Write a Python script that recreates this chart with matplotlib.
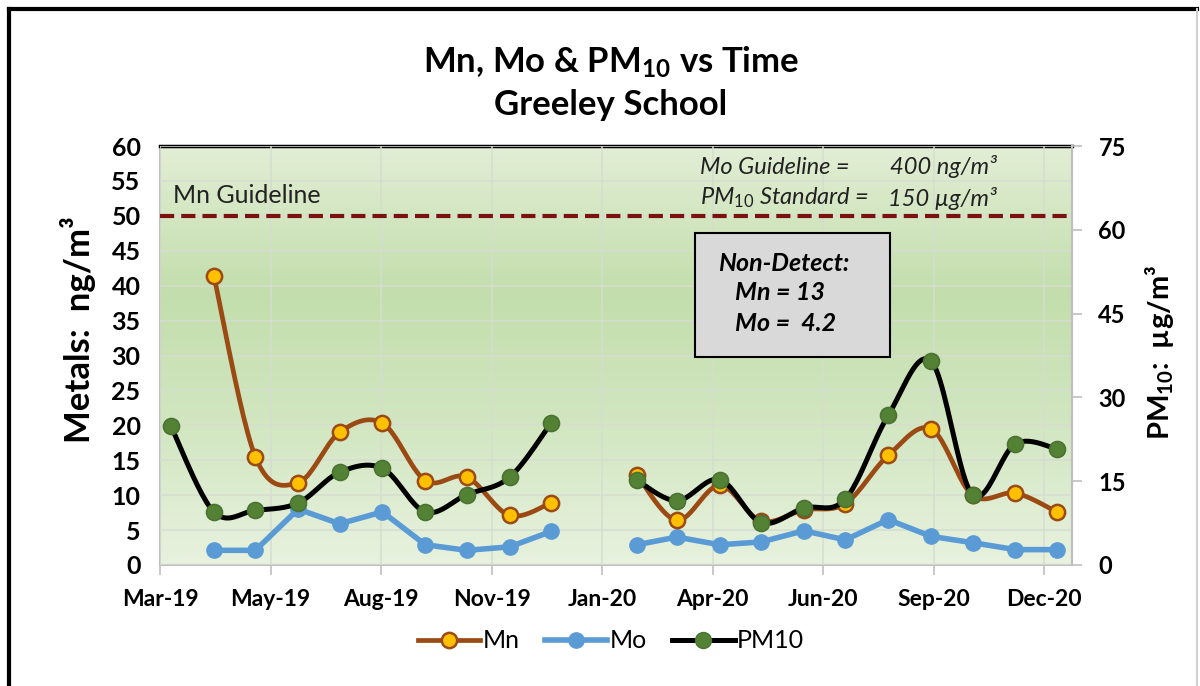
import numpy as np
import pandas as pd
import matplotlib
matplotlib.use("Agg")
import matplotlib.pyplot as plt
import matplotlib.dates as mdates
from matplotlib.lines import Line2D
from matplotlib.patches import Rectangle
from matplotlib.colors import LinearSegmentedColormap

# ---------------- data ----------------
sample_dates = ["2019-03-15", "2019-04-15", "2019-05-15", "2019-06-15", "2019-07-15",
                "2019-08-15", "2019-09-15", "2019-10-15", "2019-11-15", "2019-12-15",
                "2020-01-15", "2020-02-15", "2020-03-15", "2020-04-15", "2020-05-15",
                "2020-06-15", "2020-07-15", "2020-08-15", "2020-09-15", "2020-10-15",
                "2020-11-15", "2020-12-15"]
nan = np.nan
mn = [nan, 41.4, 15.5, 11.8, 19.0, 20.3, 12.1, 12.6, 7.1, 8.9,
      nan, 12.9, 6.4, 11.4, 6.3, 7.9, 8.8, 15.7, 19.5, 10.0, 10.3, 7.6]
mo = [nan, 2.1, 2.1, 8.0, 5.9, 7.6, 2.9, 2.1, 2.6, 4.8,
      nan, 2.9, 4.0, 2.9, 3.3, 4.9, 3.6, 6.5, 4.1, 3.2, 2.2, 2.2]
pm10 = [24.8, 9.5, 9.8, 11.1, 16.6, 17.3, 9.5, 12.6, 15.7, 25.4,
        nan, 15.2, 11.5, 15.3, 7.6, 10.2, 11.8, 26.8, 36.5, 12.6, 21.7, 20.8]
mn_guideline = 50
tick_labels = ["Mar-19", "May-19", "Aug-19", "Nov-19", "Jan-20",
               "Apr-20", "Jun-20", "Sep-20", "Dec-20"]
axis_start = "2019-03-07"
tick_step_days = 80
axis_span_days = 660

# ---------------- style ----------------
plt.rcParams['font.family'] = ['Lato', 'DejaVu Sans']
plt.rcParams['mathtext.fontset'] = 'custom'
plt.rcParams['mathtext.rm'] = 'Lato'
plt.rcParams['mathtext.it'] = 'Lato:italic'
plt.rcParams['mathtext.bf'] = 'Lato:bold'

W, H = 1200, 686
fig = plt.figure(figsize=(W / 100, H / 100), dpi=100)
fig.patch.set_facecolor('white')

def fx(px):
    return px / W

def fy(py):
    return 1 - py / H

ax = fig.add_axes([fx(160), fy(565), fx(1072) - fx(160), fy(146) - fy(565)])
ax2 = ax.twinx()

x = mdates.date2num(pd.to_datetime(sample_dates))
x0 = mdates.date2num(pd.Timestamp(axis_start))
ticks = [x0 + k * tick_step_days for k in range(len(tick_labels))]

# gradient background
cmap = LinearSegmentedColormap.from_list(
    'bg', [(0.0, '#e8f2df'), (0.35, '#d1e6c0'), (0.65, '#c3deac'), (1.0, '#e2eed5')])
grad = np.linspace(0, 1, 256).reshape(-1, 1)
ax.imshow(grad, aspect='auto', cmap=cmap, origin='lower',
          extent=[0, 1, 0, 1], transform=ax.transAxes, zorder=0)
ax.set_facecolor('none')


def smooth(xs, ys, n=24):
    xs = np.asarray(xs, float)
    ys = np.asarray(ys, float)
    outx, outy = [], []
    ok = ~np.isnan(ys)
    segs = []
    cur = []
    for i in range(len(ys)):
        if ok[i]:
            cur.append(i)
        else:
            if cur:
                segs.append(cur)
            cur = []
    if cur:
        segs.append(cur)
    for seg in segs:
        P = np.column_stack([xs[seg], ys[seg]])
        m = len(P)
        sx, sy = [P[0, 0]], [P[0, 1]]
        for i in range(m - 1):
            p0 = P[i - 1] if i > 0 else P[i]
            p1 = P[i]
            p2 = P[i + 1]
            p3 = P[i + 2] if i + 2 < m else P[i + 1]
            c1 = p1 + (p2 - p0) / 6
            c2 = p2 - (p3 - p1) / 6
            t = np.linspace(0, 1, n)[1:, None]
            b = ((1 - t) ** 3) * p1 + 3 * ((1 - t) ** 2) * t * c1 + 3 * (1 - t) * t ** 2 * c2 + t ** 3 * p2
            sx.extend(b[:, 0])
            sy.extend(b[:, 1])
        outx.extend(sx + [np.nan])
        outy.extend(sy + [np.nan])
    return np.array(outx), np.array(outy)


mn_col = '#9a4a12'
mo_col = '#5b9bd5'
pm_col = '#000000'
pm_mk = '#548235'

# guideline
ax.axhline(mn_guideline, color='#7b1212', lw=3, ls=(0, (3.4, 1.7)), zorder=3)

# Mn (smoothed)
sx, sy = smooth(x, mn)
ax.plot(sx, sy, color=mn_col, lw=3.4, zorder=4, solid_capstyle='round')
ax.plot(x, mn, ls='none', marker='o', ms=11, mfc='#ffc000', mec=mn_col, mew=1.8, zorder=5)
# Mo (straight)
mo_arr = np.array(mo, float)
ax.plot(x, mo_arr, color=mo_col, lw=4, marker='o', ms=11, mfc=mo_col, mec=mo_col, zorder=4)

# PM10 on secondary axis (smoothed)
sx, sy = smooth(x, pm10)
ax2.plot(sx, sy, color=pm_col, lw=3.6, zorder=3)
ax2.plot(x, pm10, ls='none', marker='o', ms=11.5, mfc=pm_mk, mec='#4a7232', mew=1.2, zorder=4)

# axes ranges / ticks
ax.set_xlim(x0, x0 + axis_span_days)
ax.set_ylim(0, 60)
ax2.set_ylim(0, 75)
ax.set_xticks(ticks)
ax.set_xticklabels(tick_labels)
ax.set_yticks(np.arange(0, 61, 5))
ax2.set_yticks(np.arange(0, 76, 15))

ax.grid(True, color='#d6ddd0', lw=1.1)
ax.set_axisbelow(False)
for gl in ax.get_xgridlines() + ax.get_ygridlines():
    gl.set_zorder(1)

for t in ax.get_xticklabels():
    t.set_fontweight('bold')
    t.set_fontsize(16.5)
for t in ax.get_yticklabels():
    t.set_fontweight('bold')
    t.set_fontsize(18)
for t in ax2.get_yticklabels():
    t.set_fontweight('bold')
    t.set_fontsize(17)

ax.tick_params(axis='x', length=7, width=1.2, color='#bfbfbf', pad=10, labelcolor='black')
ax.tick_params(axis='y', length=0, pad=14)
ax2.tick_params(axis='y', length=7, width=1.2, color='#bfbfbf', pad=12, labelcolor='black')

for sp in ['left', 'bottom', 'right']:
    ax.spines[sp].set_color('#bfbfbf')
    ax.spines[sp].set_linewidth(1.5)
ax.spines['top'].set_color('black')
ax.spines['top'].set_linewidth(2.5)
for sp in ['left', 'bottom', 'top']:
    ax2.spines[sp].set_visible(False)
ax2.spines['right'].set_color('#bfbfbf')
ax2.spines['right'].set_linewidth(1.5)

# titles and labels
fig.text(fx(611), fy(62), r'Mn, Mo & PM$_{\mathbf{10}}$ vs Time', ha='center', va='center',
         fontsize=25, fontweight='bold')
fig.text(fx(611), fy(105), 'Greeley School', ha='center', va='center',
         fontsize=25, fontweight='bold')
fig.text(fx(78), fy(330), 'Metals:  ng/m³', rotation=90, ha='center', va='center',
         fontsize=25, fontweight='bold')
fig.text(fx(1160), fy(352), r'PM$_{\mathbf{10}}$:  µg/m³', rotation=90, ha='center', va='center',
         fontsize=21, fontweight='bold')

# annotations
fig.text(fx(173), fy(195), 'Mn Guideline', ha='left', va='center', fontsize=18, color='#222222')
fig.text(fx(700), fy(167), 'Mo Guideline =', ha='left', va='center', fontsize=17,
         style='italic', color='#222222')
fig.text(fx(890), fy(167), '400 ng/m³', ha='left', va='center', fontsize=17,
         style='italic', color='#222222')
fig.text(fx(700), fy(198), r'PM$_{\mathit{10}}$ Standard =', ha='left', va='center', fontsize=17,
         style='italic', color='#222222')
fig.text(fx(888), fy(198), '150 µg/m³', ha='left', va='center', fontsize=17,
         style='italic', color='#222222')

box = Rectangle((fx(695), fy(357)), fx(890) - fx(695), fy(233) - fy(357),
                transform=fig.transFigure, facecolor='#d9d9d9', edgecolor='black',
                lw=1.5, zorder=10)
fig.add_artist(box)
fig.text(fx(718), fy(263), 'Non-Detect:', ha='left', va='center', fontsize=18,
         fontweight='bold', style='italic', zorder=11)
fig.text(fx(735), fy(293), 'Mn = 13', ha='left', va='center', fontsize=18,
         fontweight='bold', style='italic', zorder=11)
fig.text(fx(735), fy(324), 'Mo =  4.2', ha='left', va='center', fontsize=18,
         fontweight='bold', style='italic', zorder=11)

# legend
handles = [
    Line2D([], [], color=mn_col, lw=3.4, marker='o', ms=11, mfc='#ffc000', mec=mn_col, mew=1.8),
    Line2D([], [], color=mo_col, lw=4, marker='o', ms=11, mfc=mo_col, mec=mo_col),
    Line2D([], [], color=pm_col, lw=3.6, marker='o', ms=11.5, mfc=pm_mk, mec='#4a7232'),
]
fig.legend(handles, ['Mn', 'Mo', 'PM10'], loc='center', bbox_to_anchor=(fx(611), fy(641)),
           ncol=3, frameon=False, fontsize=18, handlelength=2.5, handletextpad=0.1,
           columnspacing=1.0)

# outer frame
fig.add_artist(Line2D([fx(9), fx(9)], [fy(9), fy(686)], color='black', lw=3, transform=fig.transFigure))
fig.add_artist(Line2D([fx(9), fx(1197)], [fy(9), fy(9)], color='black', lw=3, transform=fig.transFigure))
fig.add_artist(Line2D([fx(1197), fx(1197)], [fy(9), fy(686)], color='#d0d0d0', lw=1.5, transform=fig.transFigure))

fig.savefig('out.png', dpi=100)
